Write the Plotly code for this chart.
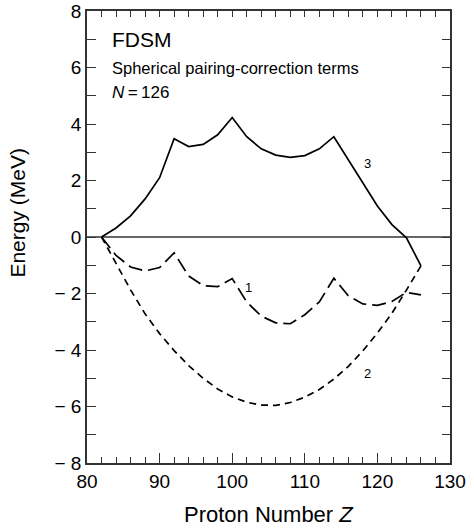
import plotly.graph_objects as go

# Proton number Z (even values)
Z = [82, 84, 86, 88, 90, 92, 94, 96, 98, 100, 102, 104, 106, 108, 110, 112, 114, 116, 118, 120, 122, 124, 126]

# Curve 1 (long dashes)
curve1 = [0, -0.65, -1.06, -1.2, -1.08, -0.56, -1.38, -1.72, -1.76, -1.47, -2.3, -2.8,
          -3.04, -3.07, -2.75, -2.3, -1.46, -2.08, -2.37, -2.42, -2.28, -1.96, -2.05]
# Curve 2 (short dashes)
curve2 = [0, -0.95, -1.87, -2.72, -3.42, -4.02, -4.55, -5.0, -5.38, -5.66, -5.85, -5.95,
          -5.96, -5.86, -5.67, -5.4, -5.03, -4.58, -4.03, -3.4, -2.7, -1.88, -1.02]
# Curve 3 (solid)
curve3 = [0, 0.32, 0.75, 1.35, 2.1, 3.48, 3.2, 3.28, 3.62, 4.23, 3.55, 3.12,
          2.9, 2.82, 2.88, 3.12, 3.55, 2.72, 1.9, 1.1, 0.44, -0.03, -1.02]

x_ticks = [80, 90, 100, 110, 120, 130]
x_tick_labels = ["80", "90", "100", "110", "120", "130"]
y_ticks = [-8, -6, -4, -2, 0, 2, 4, 6, 8]
y_tick_labels = ["− 8", "− 6", "− 4", "− 2", "0", "2", "4", "6", "8"]

curve_labels = ["1", "2", "3"]
label_pos_x = [102.3, 118.6, 118.6]
label_pos_y = [-1.8, -4.83, 2.6]

FONT = "Liberation Sans, Arial, Helvetica, sans-serif"
AX = "#333333"

fig = go.Figure()

# zero line
fig.add_trace(go.Scatter(x=[80, 130], y=[0, 0], mode="lines",
                         line=dict(color=AX, width=1.5), hoverinfo="skip", showlegend=False))

fig.add_trace(go.Scatter(x=Z, y=curve3, mode="lines", line=dict(color="black", width=1.7),
                         showlegend=False))
fig.add_trace(go.Scatter(x=Z, y=curve1, mode="lines",
                         line=dict(color="black", width=1.7, dash="14px,6px"), showlegend=False))
fig.add_trace(go.Scatter(x=Z, y=curve2, mode="lines",
                         line=dict(color="black", width=1.7, dash="7px,5px"), showlegend=False))
# invisible trace that activates the top/right tick axes
fig.add_trace(go.Scatter(x=Z, y=curve3, xaxis="x2", yaxis="y2", mode="lines",
                         line=dict(width=0, color="rgba(0,0,0,0)"), showlegend=False, hoverinfo="skip"))

for t, lx, ly in zip(curve_labels, label_pos_x, label_pos_y):
    fig.add_annotation(x=lx, y=ly, text=t, showarrow=False,
                       font=dict(size=13, color="#000000", family=FONT))

# Header texts
fig.add_annotation(xref="paper", yref="paper", x=0.063, y=0.936, xanchor="left", yanchor="middle",
                   text="FDSM", showarrow=False, font=dict(size=21, color="black", family=FONT))
fig.add_annotation(xref="paper", yref="paper", x=0.063, y=0.875, xanchor="left", yanchor="middle",
                   text="Spherical pairing-correction terms", showarrow=False,
                   font=dict(size=16.5, color="black", family=FONT))
fig.add_annotation(xref="paper", yref="paper", x=0.063, y=0.820, xanchor="left", yanchor="middle",
                   text="<i>N</i>\u2009=\u2009126", showarrow=False,
                   font=dict(size=17, color="black", family=FONT))

# Axis titles as annotations
fig.add_annotation(xref="paper", yref="paper", x=0.5, y=-0.113, xanchor="center", yanchor="middle",
                   text="Proton Number <i>Z</i>", showarrow=False,
                   font=dict(size=22, color="black", family=FONT))
fig.add_annotation(xref="paper", yref="paper", x=-0.19, y=0.554, xanchor="center", yanchor="middle",
                   text="Energy (MeV)", textangle=-90, showarrow=False,
                   font=dict(size=21, color="black", family=FONT))

axis_common = dict(showgrid=False, zeroline=False, showline=True, linecolor=AX,
                   linewidth=1.5, mirror=True, ticks="inside", tickcolor=AX,
                   tickwidth=1.2, automargin=False,
                   tickfont=dict(size=19, color="black", family=FONT))

fig.update_layout(
    xaxis=dict(range=[80, 130], tickvals=x_ticks, ticktext=x_tick_labels, ticklen=10,
               minor=dict(dtick=2, ticklen=6, ticks="inside", tickcolor=AX, tickwidth=1.2),
               **axis_common),
    yaxis=dict(range=[-8, 8], tickvals=y_ticks, ticktext=y_tick_labels, ticklen=9,
               minor=dict(dtick=1, ticklen=9, ticks="inside", tickcolor=AX, tickwidth=1.2),
               **axis_common),
    xaxis2=dict(range=[80, 130], overlaying="x", side="top", anchor="y2", showgrid=False,
                zeroline=False, showline=False, showticklabels=False, ticks="inside",
                tickmode="linear", tick0=80, dtick=2, ticklen=6, tickcolor=AX, tickwidth=1.2,
                automargin=False),
    yaxis2=dict(range=[-8, 8], overlaying="y", side="right", anchor="x2", showgrid=False,
                zeroline=False, showline=False, showticklabels=False, ticks="inside",
                tickmode="linear", tick0=-8, dtick=1, ticklen=8, tickcolor=AX, tickwidth=1.2,
                automargin=False),
)

fig.update_layout(width=474, height=529, margin=dict(l=87, r=24, t=11, b=65.5, autoexpand=False),
                  plot_bgcolor="white", paper_bgcolor="white",
                  font=dict(family=FONT, color="black"))

fig.write_html("out.html", config={"displayModeBar": False},
               post_script="document.body.style.margin='0';document.body.style.overflow='hidden';")
